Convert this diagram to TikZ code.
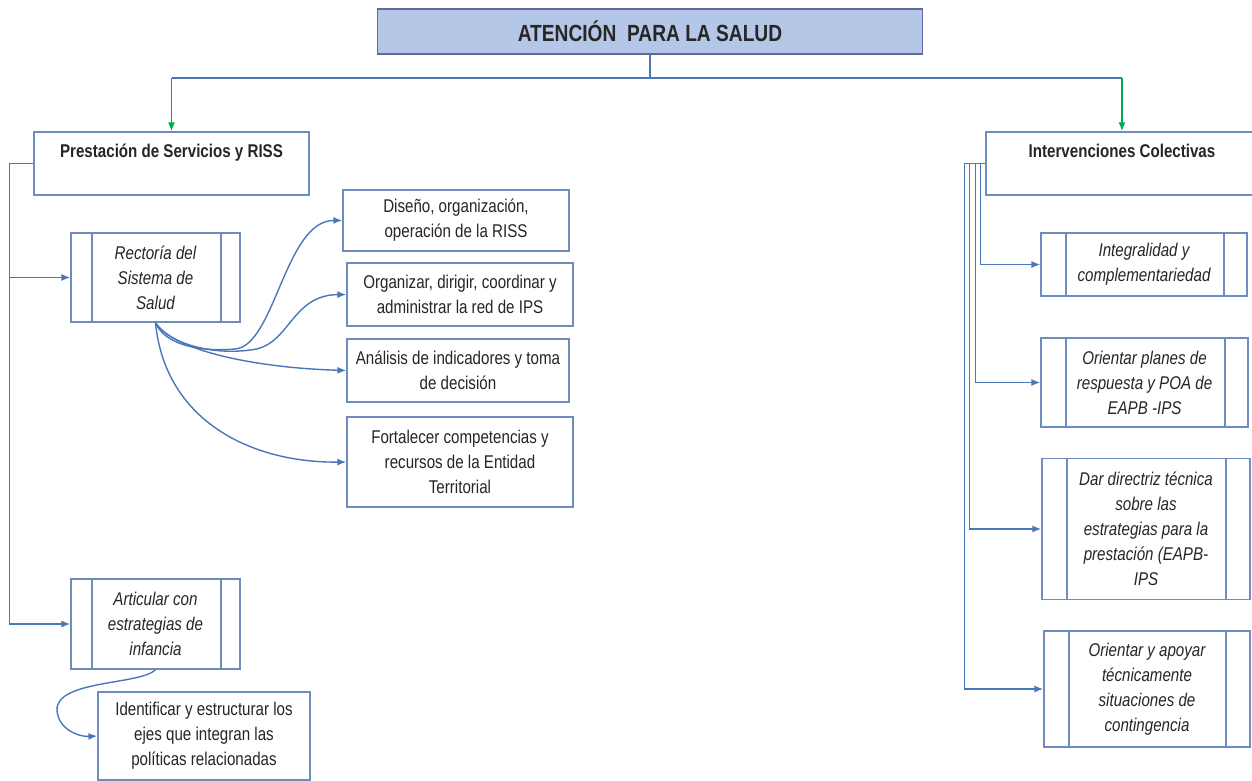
\documentclass[tikz,border=0pt]{standalone}
\usepackage{fontspec}
\setmainfont{Liberation Sans}[FakeStretch=0.82]
\usepackage{tikz}
\usetikzlibrary{arrows.meta,positioning,calc}
\definecolor{lineblue}{RGB}{74,118,186}
\definecolor{boxblue}{RGB}{110,140,190}
\definecolor{titlefill}{RGB}{180,199,231}
\definecolor{arrowgreen}{RGB}{0,170,80}
\definecolor{txt}{RGB}{38,38,38}
\tikzset{
  box/.style={draw=boxblue, line width=0.9pt, fill=white, align=center, text=txt,
    font=\fontsize{10.5}{14.2}\selectfont, inner sep=2pt},
  headbox/.style={box, font=\fontsize{10.5}{14.2}\selectfont\bfseries},
  procbox/.style={box, font=\fontsize{10.5}{14.2}\selectfont\itshape},
  link/.style={draw=lineblue, line width=0.8pt},
  linkarrow/.style={link, -{Latex[length=5pt,width=4pt]}},
  greenarrow/.style={draw=arrowgreen, line width=0.8pt, -{Latex[length=5pt,width=4pt]}}
}
\begin{document}
\begin{tikzpicture}[x=0.02cm,y=-0.02cm]
\useasboundingbox (0,0) rectangle (1252,781);
% title
\node[box, fill=titlefill, draw=gray!80!blue, minimum width=545*0.02cm, minimum height=45*0.02cm,
  font=\fontsize{13.3}{16}\selectfont\bfseries] (title) at (650,31.5) {ATENCIÓN\ \ PARA LA SALUD};
% main branches
\node[headbox, minimum width=275*0.02cm, minimum height=63*0.02cm] (prest) at (171.5,163.5) {Prestación de Servicios y RISS\\ \mbox{}};
\node[headbox, minimum width=272*0.02cm, minimum height=63*0.02cm] (inter) at (1122,163.5) {Intervenciones Colectivas\\ \mbox{}};
% left side
\node[procbox, minimum width=169*0.02cm, minimum height=89*0.02cm] (rect) at (155.5,277.5) {Rectoría del\\Sistema de\\Salud};
\node[procbox, minimum width=169*0.02cm, minimum height=90*0.02cm] (artic) at (155.5,624) {Articular con\\estrategias de\\infancia};
\node[box, minimum width=212*0.02cm, minimum height=88*0.02cm] (ident) at (204,736) {Identificar y estructurar los\\ejes que integran las\\políticas relacionadas};
\node[box, minimum width=226*0.02cm, minimum height=61*0.02cm] (dis) at (456,220.5) {Diseño, organización,\\operación de la RISS};
\node[box, minimum width=226*0.02cm, minimum height=63*0.02cm] (org) at (460,294.5) {Organizar, dirigir, coordinar y\\administrar la red de IPS};
\node[box, minimum width=222*0.02cm, minimum height=63*0.02cm] (ana) at (458,370.5) {Análisis de indicadores y toma\\de decisión};
\node[box, minimum width=226*0.02cm, minimum height=90*0.02cm] (fort) at (460,462) {Fortalecer competencias y\\recursos de la Entidad\\Territorial};
% right side
\node[procbox, minimum width=206*0.02cm, minimum height=63*0.02cm] (integ) at (1144,264.5) {Integralidad y\\complementariedad};
\node[procbox, minimum width=207*0.02cm, minimum height=89*0.02cm] (orpl) at (1144.5,382.5) {Orientar planes de\\respuesta y POA de\\EAPB -IPS};
\node[procbox, minimum width=208*0.02cm, minimum height=141*0.02cm] (dar) at (1146,529) {Dar directriz técnica\\sobre las\\estrategias para la\\prestación (EAPB-\\IPS};
\node[procbox, minimum width=206*0.02cm, minimum height=116*0.02cm] (orap) at (1147,689) {Orientar y apoyar\\técnicamente\\situaciones de\\contingencia};
% side bars of the process boxes
\foreach \n/\a/\b in {rect/0.44cm/0.4cm, artic/0.44cm/0.4cm, integ/0.52cm/0.48cm, orpl/0.52cm/0.48cm, dar/0.52cm/0.5cm, orap/0.52cm/0.5cm}{
  \draw[draw=boxblue, line width=0.9pt] ([xshift=\a]\n.north west) -- ([xshift=\a]\n.south west);
  \draw[draw=boxblue, line width=0.9pt] ([xshift=-\b]\n.north east) -- ([xshift=-\b]\n.south east);
}
% top connectors
\coordinate (split) at (650,78);
\coordinate (lcorner) at (prest.north |- split);
\coordinate (rcorner) at (inter.north |- split);
\draw[link] (title.south) -- (split);
\draw[link] (lcorner) -- (rcorner);
\draw[greenarrow] (lcorner) -- (prest.north);
\draw[greenarrow] (rcorner) -- (inter.north);
% left spine
\draw[linkarrow] (prest.west) -- ++(-24,0) |- (rect.west);
\draw[linkarrow] (prest.west) -- ++(-24,0) |- (artic.west);
% right spine
\draw[linkarrow] (inter.west) -- ++(-5,0) |- (integ.west);
\draw[linkarrow] (inter.west) -- ++(-10,0) |- (orpl.west);
\draw[linkarrow] (inter.west) -- ++(-16,0) |- (dar.west);
\draw[linkarrow] (inter.west) -- ++(-21,0) |- (orap.west);
% curves out of Rectoria
\draw[linkarrow] (rect.south) .. controls (165,345) and (200,352) .. (235,349) .. controls (275,346) and (285,220) .. (dis.west);
\draw[linkarrow] (rect.south) .. controls (170,345) and (215,355) .. (250,350) .. controls (290,347) and (290,295) .. (org.west);
\draw[linkarrow] (rect.south) .. controls (175,352) and (260,368) .. (ana.west);
\draw[linkarrow] (rect.south) .. controls (165,420) and (250,463) .. (fort.west);
% curve out of Articular
\draw[linkarrow] (artic.south) .. controls (140,685) and (56,680) .. (57,710) .. controls (58,730) and (80,737) .. (ident.west);
\end{tikzpicture}
\end{document}
